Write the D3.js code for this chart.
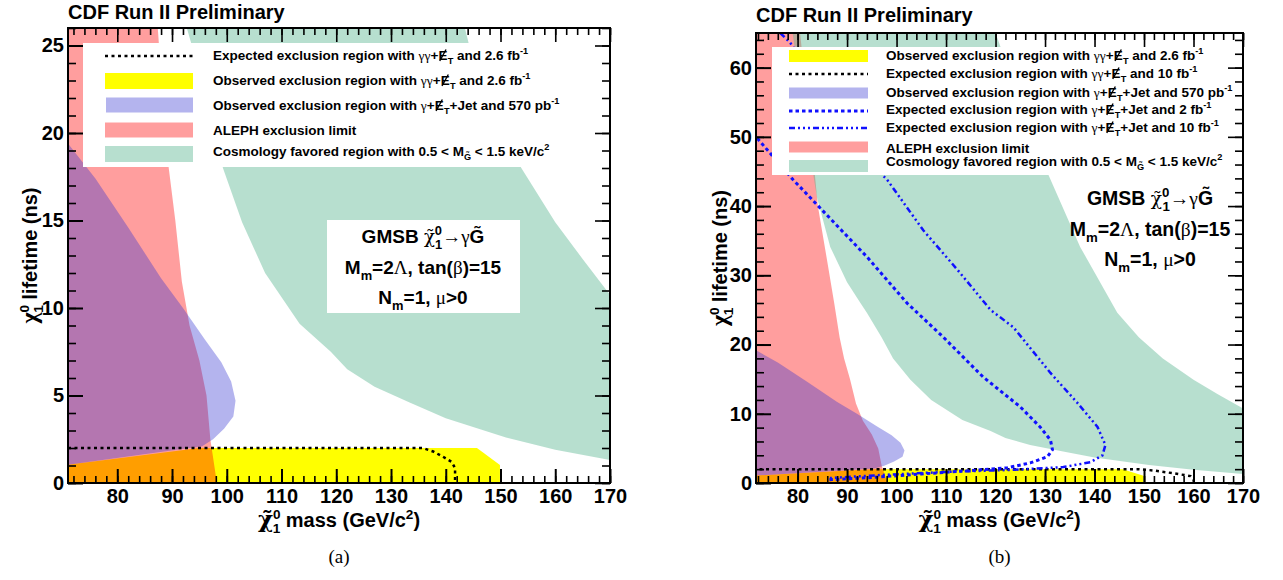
<!DOCTYPE html>
<html>
<head>
<meta charset="utf-8">
<script src="https://cdn.jsdelivr.net/npm/d3@7"></script>
<style>
body { margin: 0; background: #fff; }
text { font-family: "Liberation Sans", Arial, sans-serif; font-weight: bold; }
</style>
</head>
<body>
<svg id="chart" width="1283" height="580"></svg>
<script>
// ---- data: [neutralino mass (GeV/c2), lifetime (ns)] ----
const massMajorTicks = [80, 90, 100, 110, 120, 130, 140, 150, 160, 170];
const lifetimeTicksA = [0, 5, 10, 15, 20, 25];
const lifetimeTicksB = [0, 10, 20, 30, 40, 50, 60];

const alephLimit = [[71, 65], [80.5, 65], [82, 55], [83.5, 44.5], [84.1, 40], [86, 32], [87.4, 26], [88.5, 21],
  [89.4, 18], [90.6, 15], [91.8, 11.5], [93.2, 9], [95, 7], [96.3, 5], [97, 2.5], [98.2, 0], [71, 0]];

const jetObserved570 = [[71, 19.4], [76, 17.4], [82, 14.6], [88, 11.7], [92, 10], [96, 8.2], [99, 6.9],
  [100.8, 5.8], [101.6, 4.7], [101.2, 3.8], [99.5, 3.1], [97.5, 2.5], [95.5, 2.1], [71, 1.05]];

const diphotonObserved = [[71, 0], [71, 1.05], [95, 2.0], [145.7, 2.0], [149.9, 1.03], [149.9, 0]];

const cosmoInner = [[79, 65], [81.5, 52], [83.9, 41.3], [86.6, 34.1], [90, 29], [92.7, 26], [94, 24.6], [97, 21],
  [99.3, 18], [102.8, 14.9], [107, 12], [113.3, 9.1], [119, 7.5], [122, 6.5], [127, 5.5], [133.4, 4.6],
  [140, 3.7], [151, 2.6], [160, 1.9], [172, 1.2]];
const cosmoOuter = [[120, 65], [125, 55], [130.7, 44.5], [137.1, 34.1], [144.6, 24.6], [149, 21], [153.8, 18],
  [160, 14.9], [165, 12.8], [169.4, 11], [172, 10]];

const diphotonExpected26 = [[71, 2.0], [135.8, 2.0], [137.7, 1.8], [139.5, 1.5], [141.1, 1.2], [141.7, 0.85], [141.7, 0]];
const diphotonExpected10 = [[71, 2.0], [149, 2.0], [152, 1.8], [156, 1.4], [159.4, 1.0], [160, 0.5], [160.1, 0]];

const jetExpected2 = [[71, 50.5], [79.1, 43.8], [94.1, 32.6], [102.1, 26.0], [109.4, 21.1], [117.5, 15.3],
  [125, 11], [129, 8.1], [131.1, 6.2], [131.5, 4.8], [130.5, 3.8], [127, 2.9], [122.4, 2.2], [116.9, 1.9],
  [105, 1.3], [95, 0.8], [86, 0.45]];
const jetExpected10 = [[76.5, 65], [78.5, 63.6], [96.7, 44.8], [98.1, 43.8], [105.4, 36.5], [112.3, 30.8],
  [119, 25], [123.6, 22.5], [131.1, 15.9], [136.5, 11.6], [140.6, 8.1], [142.2, 5.5], [141.6, 4.0],
  [139.2, 3.0], [133.7, 2.3], [123.6, 1.9], [110, 1.6], [98, 1.2], [86, 0.7]];

// ---- styles ----
const sty = {
  yellow: { fill: "#ffff00", op: 1 },
  red: { fill: "#ff0000", op: 0.38 },
  blue: { fill: "#3030d0", op: 0.36 },
  green: { fill: "#5fb894", op: 0.45 },
  blackDot: { stroke: "#000", w: 2.5, dash: "3,3.5" },
  blueDash: { stroke: "#1010ff", w: 3, dash: "3.5,3" },
  blueDashDot: { stroke: "#1010ff", w: 2.5, dash: "6,3,2,3,2,3,2,3" }
};

const svg = d3.select("#chart");

// small rich-text helper: segments [string, kind, dx]
//   kinds: "" plain, sub, sup, g (greek, serif regular), gb (greek bold), tg (chi with tilde), met (missing E_T)
function rich(sel, segs, size) {
  var shift = 0, nchar = 0, mets = [];
  segs.forEach(function(s) {
    var str = s[0], kind = s[1], dx = s[2];
    if (kind === "met") {
      mets.push(nchar);
      var e = sel.append("tspan").text("E");
      if (shift !== 0) e.attr("dy", -shift);
      shift = 0;
      var t = sel.append("tspan").text("T").attr("font-size", size * 0.68)
        .attr("dy", size * 0.32).attr("dx", size * 0.02);
      shift = size * 0.32;
      nchar += 2;
      return;
    }
    var t = sel.append("tspan").text(str);
    var target = 0;
    if (kind === "sub") { target = size * 0.32; t.attr("font-size", size * 0.68); }
    if (kind === "sup") { target = -size * 0.42; t.attr("font-size", size * 0.68); }
    if (kind === "g") t.style("font-family", "Liberation Serif").style("font-weight", "normal");
    if (kind === "gb") t.style("font-family", "Liberation Serif");
    if (kind === "tg") t.style("font-family", "DejaVu Serif").style("font-weight", "normal").attr("font-size", size * 0.95);
    if (target !== shift) t.attr("dy", target - shift);
    shift = target;
    if (dx) t.attr("dx", dx);
    nchar += str.length;
  });
  // slash through the E of missing transverse energy
  var node = sel.node();
  mets.forEach(function(i) {
    var ext = node.getExtentOfChar(i);
    var base = node.getStartPositionOfChar(i).y;
    svg.append("line")
      .attr("x1", ext.x + ext.width * 0.15).attr("y1", base + 1)
      .attr("x2", ext.x + ext.width * 0.85).attr("y2", base - size * 0.78)
      .attr("stroke", "#000").attr("stroke-width", 1.4);
  });
}

function makePanel(o) {
  var x = d3.scaleLinear().domain(o.xDomain).range([o.left, o.right]);
  var y = d3.scaleLinear().domain(o.yDomain).range([o.bottom, o.top]);
  var id = "clip" + o.name;
  svg.append("clipPath").attr("id", id).append("rect")
    .attr("x", o.left).attr("y", o.top).attr("width", o.right - o.left).attr("height", o.bottom - o.top);
  var g = svg.append("g").attr("clip-path", "url(#" + id + ")");
  return { x: x, y: y, g: g, o: o };
}

function area(p, pts, st) {
  var line = d3.line().x(function(d) { return p.x(d[0]); }).y(function(d) { return p.y(d[1]); });
  p.g.append("path").attr("d", line(pts) + "Z").attr("fill", st.fill).attr("fill-opacity", st.op);
}

function curve(p, pts, st) {
  var line = d3.line().x(function(d) { return p.x(d[0]); }).y(function(d) { return p.y(d[1]); });
  p.g.append("path").attr("d", line(pts)).attr("fill", "none")
    .attr("stroke", st.stroke).attr("stroke-width", st.w).attr("stroke-dasharray", st.dash);
}

function axes(p, yMajor, yMinorStep) {
  var o = p.o;
  var xMinor = d3.range(72, 171, 2);
  var yMinor = d3.range(o.yDomain[0], o.yDomain[1] + 0.001, yMinorStep);
  var lab = function(sel) {
    sel.select(".domain").remove();
    sel.selectAll("line").attr("stroke", "#000").attr("stroke-width", 2);
    sel.selectAll("text").attr("font-size", 20).attr("font-family", "Liberation Sans, Arial, sans-serif")
      .attr("font-weight", "bold").attr("fill", "#000");
  };
  var noLab = function(sel) {
    sel.select(".domain").remove();
    sel.selectAll("line").attr("stroke", "#000").attr("stroke-width", 1.6);
    sel.selectAll("text").remove();
  };
  // bottom
  svg.append("g").attr("transform", "translate(0," + o.bottom + ")")
    .call(d3.axisBottom(p.x).tickValues(xMinor).tickSize(-7)).call(noLab);
  svg.append("g").attr("transform", "translate(0," + o.bottom + ")")
    .call(d3.axisBottom(p.x).tickValues(massMajorTicks).tickSize(-14).tickPadding(6).tickFormat(d3.format("d"))).call(lab);
  // top
  svg.append("g").attr("transform", "translate(0," + o.top + ")")
    .call(d3.axisTop(p.x).tickValues(xMinor).tickSize(-7)).call(noLab);
  svg.append("g").attr("transform", "translate(0," + o.top + ")")
    .call(d3.axisTop(p.x).tickValues(massMajorTicks).tickSize(-14)).call(noLab);
  // left
  svg.append("g").attr("transform", "translate(" + o.left + ",0)")
    .call(d3.axisLeft(p.y).tickValues(yMinor).tickSize(-8)).call(noLab);
  svg.append("g").attr("transform", "translate(" + o.left + ",0)")
    .call(d3.axisLeft(p.y).tickValues(yMajor).tickSize(-15).tickPadding(4).tickFormat(d3.format("d"))).call(lab);
  // right
  svg.append("g").attr("transform", "translate(" + o.right + ",0)")
    .call(d3.axisRight(p.y).tickValues(yMinor).tickSize(-8)).call(noLab);
  svg.append("g").attr("transform", "translate(" + o.right + ",0)")
    .call(d3.axisRight(p.y).tickValues(yMajor).tickSize(-15)).call(noLab);
  // frame
  svg.append("rect").attr("x", o.left).attr("y", o.top).attr("width", o.right - o.left)
    .attr("height", o.bottom - o.top).attr("fill", "none").attr("stroke", "#000").attr("stroke-width", 2);

  // titles
  svg.append("text").attr("x", o.left).attr("y", o.titleY).attr("font-size", 20).text("CDF Run II Preliminary");

  var xt = svg.append("text").attr("x", (o.left + o.right) / 2).attr("y", 527)
    .attr("text-anchor", "middle").attr("font-size", 20);
  rich(xt, [["\u03C7\u0303", "tg"], ["0", "sup"], ["1", "sub", -8], [" mass (GeV/c", ""], ["2", "sup"], [")", ""]], 20);
  xt.select("tspan").attr("font-size", 23).style("font-weight", "bold");

  var yt = svg.append("text").attr("transform", "translate(" + o.yTitleX + "," + ((o.top + o.bottom) / 2) + ")rotate(-90)")
    .attr("text-anchor", "middle").attr("font-size", 20);
  rich(yt, [["\u03C7", "gb"], ["0", "sup"], ["1", "sub", -8], [" lifetime (ns)", ""]], 20);
  yt.select("tspan").attr("font-size", 24);

  svg.append("text").attr("x", (o.left + o.right) / 2).attr("y", 563).attr("text-anchor", "middle")
    .style("font-family", "Liberation Serif").style("font-weight", "normal").attr("font-size", 19).text(o.caption);
}

function gmsbBox(cx, y1, size) {
  var t1 = svg.append("text").attr("x", cx).attr("y", y1).attr("text-anchor", "middle").attr("font-size", size);
  rich(t1, [["GMSB ", ""], ["\u03C7\u0303", "tg"], ["0", "sup"], ["1", "sub", -7], ["\u2192\u03B3", "g"], ["G\u0303", ""]], size);
  var t2 = svg.append("text").attr("x", cx).attr("y", y1 + 31).attr("text-anchor", "middle").attr("font-size", size);
  rich(t2, [["M", ""], ["m", "sub"], ["=2", ""], ["\u039B", "g"], [", tan(", ""], ["\u03B2", "g"], [")=15", ""]], size);
  var t3 = svg.append("text").attr("x", cx).attr("y", y1 + 61).attr("text-anchor", "middle").attr("font-size", size);
  rich(t3, [["N", ""], ["m", "sub"], ["=1, ", ""], ["\u03BC", "g"], [">0", ""]], size);
}

function legendRow(sx0, sx1, cy, ty, tx, st, kind, segs, size, h) {
  if (kind === "box") {
    svg.append("rect").attr("x", sx0).attr("y", cy - h / 2).attr("width", sx1 - sx0).attr("height", h)
      .attr("fill", st.fill).attr("fill-opacity", st.op);
  } else {
    svg.append("line").attr("x1", sx0).attr("x2", sx1).attr("y1", cy).attr("y2", cy)
      .attr("stroke", st.stroke).attr("stroke-width", st.w).attr("stroke-dasharray", st.dash);
  }
  var t = svg.append("text").attr("x", tx).attr("y", ty).attr("font-size", size);
  rich(t, segs, size);
}

function gg() { return [["\u03B3\u03B3", "g"], ["+", ""], ["", "met"]]; }
function gj() { return [["\u03B3", "g"], ["+", ""], ["", "met"]]; }
function cosmoSegs() {
  return [["Cosmology favored region with 0.5 < M", ""], ["G\u0303", "sub"], [" < 1.5 keV/c", ""], ["2", "sup"]];
}

// ================= panel (a) =================
var pa = makePanel({ name: "a", left: 68, right: 610, top: 28, bottom: 483, xDomain: [71, 170], yDomain: [0, 26],
  titleY: 19, yTitleX: 37, caption: "(a)" });
area(pa, diphotonObserved, sty.yellow);
area(pa, alephLimit, sty.red);
area(pa, jetObserved570, sty.blue);
area(pa, cosmoInner.concat(cosmoOuter.slice().reverse()), sty.green);
curve(pa, diphotonExpected26, sty.blackDot);

// legend (a)
svg.append("rect").attr("x", 83).attr("y", 43).attr("width", 517).attr("height", 124).attr("fill", "#fff");
var fa = 13.5;
legendRow(105, 193, 56, 60, 213, sty.blackDot, "line",
  [["Expected exclusion region with ", ""]].concat(gg(), [[" and 2.6 fb", ""], ["-1", "sup"]]), fa);
legendRow(105, 193, 81, 85, 213, sty.yellow, "box",
  [["Observed exclusion region with ", ""]].concat(gg(), [[" and 2.6 fb", ""], ["-1", "sup"]]), fa, 16);
legendRow(106, 193, 105, 110, 213, sty.blue, "box",
  [["Observed exclusion region with ", ""]].concat(gj(), [["+Jet and 570 pb", ""], ["-1", "sup"]]), fa, 15);
legendRow(105, 193, 130, 135, 213, sty.red, "box", [["ALEPH exclusion limit", ""]], fa, 15);
legendRow(105, 193, 154, 156, 213, sty.green, "box", cosmoSegs(), fa, 16);

svg.append("rect").attr("x", 327).attr("y", 220).attr("width", 193).attr("height", 93).attr("fill", "#fff");
gmsbBox(423, 243, 19);
axes(pa, lifetimeTicksA, 1);

// ================= panel (b) =================
var pb = makePanel({ name: "b", left: 756, right: 1243, top: 33, bottom: 483, xDomain: [71.6, 170], yDomain: [0, 65],
  titleY: 22, yTitleX: 727, caption: "(b)" });
area(pb, diphotonObserved, sty.yellow);
area(pb, alephLimit, sty.red);
area(pb, jetObserved570, sty.blue);
area(pb, cosmoInner.concat(cosmoOuter.slice().reverse()), sty.green);
curve(pb, diphotonExpected10, sty.blackDot);
curve(pb, jetExpected2, sty.blueDash);
curve(pb, jetExpected10, sty.blueDashDot);

// legend (b)
svg.append("rect").attr("x", 772).attr("y", 47).attr("width", 466).attr("height", 128).attr("fill", "#fff");
var fb = 13.5;
legendRow(789, 868, 56, 60, 886, sty.yellow, "box",
  [["Observed exclusion region with ", ""]].concat(gg(), [[" and 2.6 fb", ""], ["-1", "sup"]]), fb, 12);
legendRow(789, 868, 74, 78, 886, sty.blackDot, "line",
  [["Expected exclusion region with ", ""]].concat(gg(), [[" and 10 fb", ""], ["-1", "sup"]]), fb);
legendRow(789, 868, 93, 97, 886, sty.blue, "box",
  [["Observed exclusion region with ", ""]].concat(gj(), [["+Jet and 570 pb", ""], ["-1", "sup"]]), fb, 11);
legendRow(789, 868, 111, 114, 886, sty.blueDash, "line",
  [["Expected exclusion region with ", ""]].concat(gj(), [["+Jet and 2 fb", ""], ["-1", "sup"]]), fb);
legendRow(789, 868, 128, 132, 886, sty.blueDashDot, "line",
  [["Expected exclusion region with ", ""]].concat(gj(), [["+Jet and 10 fb", ""], ["-1", "sup"]]), fb);
legendRow(789, 868, 147, 153, 886, sty.red, "box", [["ALEPH exclusion limit", ""]], fb, 11);
legendRow(789, 868, 166, 166, 886, sty.green, "box", cosmoSegs(), fb, 12);

gmsbBox(1150, 205, 19.5);
axes(pb, lifetimeTicksB, 2);
</script>
</body>
</html>
